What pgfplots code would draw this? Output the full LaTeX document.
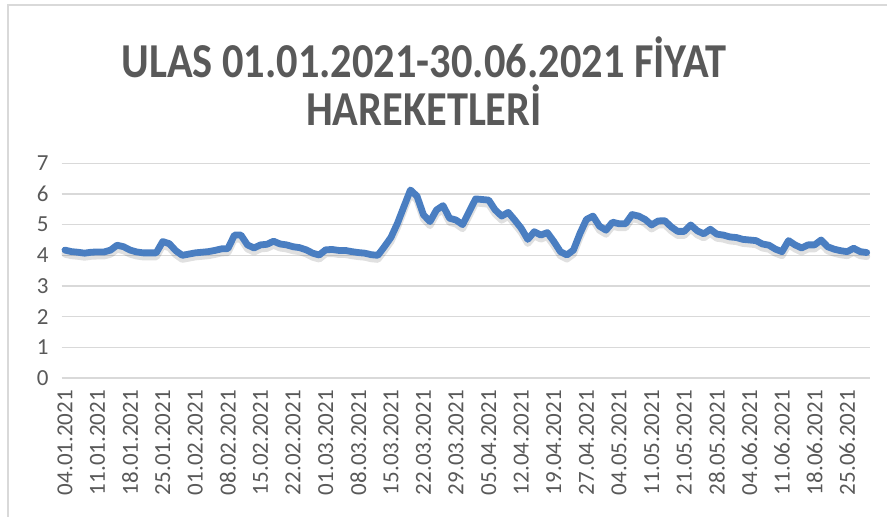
\documentclass[border=0pt]{standalone}
\usepackage{graphicx}
\usepackage{pgfplots}
\pgfplotsset{compat=1.18}
\usepackage{pgfplotstable}
\usepackage{fontspec}
\setmainfont{Carlito}
\definecolor{linecol}{HTML}{4A7EC1}
\definecolor{txtgray}{HTML}{595959}
\definecolor{gridgray}{HTML}{D9D9D9}

\pgfplotstableread{
i v
0 4.17
1 4.12
2 4.10
3 4.07
4 4.10
5 4.11
6 4.11
7 4.17
8 4.33
9 4.28
10 4.17
11 4.11
12 4.08
13 4.08
14 4.08
15 4.45
16 4.38
17 4.15
18 4.00
19 4.04
20 4.08
21 4.10
22 4.12
23 4.16
24 4.21
25 4.22
26 4.66
27 4.66
28 4.34
29 4.24
30 4.34
31 4.36
32 4.46
33 4.37
34 4.34
35 4.28
36 4.25
37 4.18
38 4.07
39 4.01
40 4.18
41 4.19
42 4.16
43 4.16
44 4.12
45 4.09
46 4.07
47 4.02
48 4.00
49 4.28
50 4.58
51 5.04
52 5.59
53 6.13
54 5.93
55 5.32
56 5.10
57 5.48
58 5.62
59 5.21
60 5.15
61 5.00
62 5.42
63 5.84
64 5.82
65 5.80
66 5.48
67 5.28
68 5.40
69 5.15
70 4.88
71 4.52
72 4.77
73 4.66
74 4.74
75 4.45
76 4.12
77 4.01
78 4.17
79 4.71
80 5.17
81 5.28
82 4.95
83 4.82
84 5.08
85 5.03
86 5.03
87 5.33
88 5.28
89 5.17
90 4.99
91 5.12
92 5.13
93 4.93
94 4.78
95 4.78
96 4.99
97 4.80
98 4.70
99 4.85
100 4.69
101 4.66
102 4.60
103 4.58
104 4.52
105 4.50
106 4.48
107 4.37
108 4.33
109 4.20
110 4.12
111 4.48
112 4.34
113 4.24
114 4.34
115 4.34
116 4.50
117 4.28
118 4.20
119 4.15
120 4.12
121 4.23
122 4.12
123 4.09
}\prices

\begin{document}
\begin{tikzpicture}[x=1pt,y=1pt]
\path[use as bounding box] (0,0) rectangle (887,517);
\draw[gridgray, line width=1.5pt] (8,0) -- (8,512) -- (887,512);
\node[text=txtgray, font=\bfseries\fontsize{42.4}{48}\selectfont, inner sep=0pt] at (424,460)
  {\scalebox{1}[1.15]{ULAS 01.01.2021-30.06.2021 FİYAT}};
\node[text=txtgray, font=\bfseries\fontsize{42.4}{48}\selectfont, inner sep=0pt] at (424,412)
  {\scalebox{1}[1.15]{HAREKETLERİ}};
\begin{axis}[
  at={(61.7pt,139pt)}, anchor=south west,
  scale only axis, width=808.3pt, height=214.7pt,
  xmin=-0.5, xmax=123.5, ymin=0, ymax=7,
  ytick={0,1,...,7},
  xtick={0,5,...,120},
  xticklabels={04.01.2021,11.01.2021,18.01.2021,25.01.2021,01.02.2021,08.02.2021,15.02.2021,22.02.2021,01.03.2021,08.03.2021,15.03.2021,22.03.2021,29.03.2021,05.04.2021,12.04.2021,19.04.2021,27.04.2021,04.05.2021,11.05.2021,21.05.2021,28.05.2021,04.06.2021,11.06.2021,18.06.2021,25.06.2021},
  axis line style={draw=none},
  major tick length=0pt,
  ymajorgrids, grid style={gridgray, line width=1.3pt},
  tick label style={font=\fontsize{23}{26}\selectfont, text=txtgray},
  xticklabel style={rotate=90, anchor=east, inner xsep=12pt},
  yticklabel style={anchor=east, inner xsep=13pt},
  /pgf/number format/assume math mode=true,
  clip=false,
]
\addplot[black, opacity=0.12, line width=7pt, line join=round, line cap=round, yshift=-4pt, forget plot] table[x=i, y=v] {\prices};
\addplot[linecol, line width=6.8pt, line join=round, line cap=round] table[x=i, y=v] {\prices};
\end{axis}
\end{tikzpicture}
\end{document}
